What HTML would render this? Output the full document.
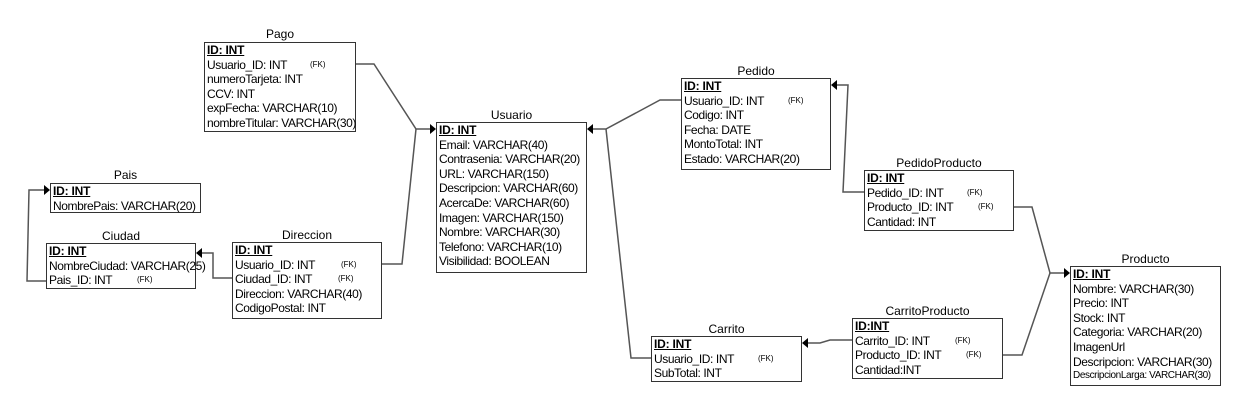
<!DOCTYPE html>
<html><head><meta charset="utf-8"><style>
body{margin:0;width:1246px;height:412px;background:#fff;position:relative;overflow:hidden;font-family:"Liberation Sans",Arial,sans-serif;color:#000}
.t{position:absolute;font-size:12px;text-align:center;line-height:14px}
.b{position:absolute;border:1.5px solid #333;box-sizing:border-box;padding:0 0 0 2px;font-size:12px;line-height:14.6px;white-space:nowrap;letter-spacing:-0.4px}
.b div{height:14.6px;position:relative}
.b .k{font-weight:bold;text-decoration:underline;letter-spacing:-0.2px}
.fk{position:absolute;font-size:8px;top:0;letter-spacing:0}
svg{position:absolute;left:0;top:0}
</style></head><body>
<svg width="1246" height="412">
<g fill="none" stroke="#555" stroke-width="1.5">
<polyline points="356,64 374,64 416,129 434,129"/>
<polyline points="381,264 402,264 416,129"/>
<polyline points="589,129 606,129 660,100 681,100"/>
<polyline points="606,129 631,358 651,358"/>
<polyline points="833,85 848,85 843,192 864,192"/>
<polyline points="1014,207 1032,207 1050,273 1068,273"/>
<polyline points="1003,355 1022,355 1050,273"/>
<polyline points="852,340 830,340 820,343 804,343"/>
<polyline points="232,278 213,278 213,253 198,253"/>
<polyline points="46,281 27,281 29,190 48,190"/>
</g>
<g fill="#000">
<polygon points="436,129 430,124 430,134"/>
<polygon points="587,129 593,124 593,134"/>
<polygon points="831,85 837,80 837,90"/>
<polygon points="1070,273 1064,268 1064,278"/>
<polygon points="802,343 808,338 808,348"/>
<polygon points="196,253 202,248 202,258"/>
<polygon points="50,190 44,185 44,195"/>
</g>
</svg>

<div class="t" style="left:204px;top:27px;width:152px">Pago</div>
<div class="b" style="left:204px;top:42px;width:152px;height:90px">
<div class="k">ID: INT</div>
<div>Usuario_ID: INT<span class="fk" style="left:103px">(FK)</span></div>
<div>numeroTarjeta: INT</div><div>CCV: INT</div><div>expFecha: VARCHAR(10)</div><div>nombreTitular: VARCHAR(30)</div></div>

<div class="t" style="left:50px;top:168px;width:151px">Pais</div>
<div class="b" style="left:50px;top:183px;width:151px;height:30px">
<div class="k">ID: INT</div><div>NombrePais: VARCHAR(20)</div></div>

<div class="t" style="left:46px;top:229px;width:150px">Ciudad</div>
<div class="b" style="left:46px;top:243px;width:150px;height:46px">
<div class="k">ID: INT</div><div>NombreCiudad: VARCHAR(25)</div>
<div>Pais_ID: INT<span class="fk" style="left:88px">(FK)</span></div></div>

<div class="t" style="left:232px;top:228px;width:150px">Direccion</div>
<div class="b" style="left:232px;top:242px;width:150px;height:77px">
<div class="k">ID: INT</div>
<div>Usuario_ID: INT<span class="fk" style="left:106px">(FK)</span></div>
<div>Ciudad_ID: INT<span class="fk" style="left:103px">(FK)</span></div>
<div>Direccion: VARCHAR(40)</div><div>CodigoPostal: INT</div></div>

<div class="t" style="left:436px;top:108px;width:151px">Usuario</div>
<div class="b" style="left:436px;top:122px;width:151px;height:151px">
<div class="k">ID: INT</div><div>Email: VARCHAR(40)</div><div>Contrasenia: VARCHAR(20)</div><div>URL: VARCHAR(150)</div><div>Descripcion: VARCHAR(60)</div><div>AcercaDe: VARCHAR(60)</div><div>Imagen: VARCHAR(150)</div><div>Nombre: VARCHAR(30)</div><div>Telefono: VARCHAR(10)</div><div>Visibilidad: BOOLEAN</div></div>

<div class="t" style="left:681px;top:64px;width:150px">Pedido</div>
<div class="b" style="left:681px;top:78px;width:150px;height:92px">
<div class="k">ID: INT</div>
<div>Usuario_ID: INT<span class="fk" style="left:104px">(FK)</span></div>
<div>Codigo: INT</div><div>Fecha: DATE</div><div>MontoTotal: INT</div><div>Estado: VARCHAR(20)</div></div>

<div class="t" style="left:651px;top:322px;width:151px">Carrito</div>
<div class="b" style="left:651px;top:336px;width:151px;height:46px">
<div class="k">ID: INT</div>
<div>Usuario_ID: INT<span class="fk" style="left:104px">(FK)</span></div>
<div>SubTotal: INT</div></div>

<div class="t" style="left:864px;top:156px;width:150px">PedidoProducto</div>
<div class="b" style="left:864px;top:170px;width:150px;height:61px">
<div class="k">ID: INT</div>
<div>Pedido_ID: INT<span class="fk" style="left:100px">(FK)</span></div>
<div>Producto_ID: INT<span class="fk" style="left:111px">(FK)</span></div>
<div>Cantidad: INT</div></div>

<div class="t" style="left:852px;top:304px;width:151px">CarritoProducto</div>
<div class="b" style="left:852px;top:318px;width:151px;height:61px">
<div class="k">ID:INT</div>
<div>Carrito_ID: INT<span class="fk" style="left:100px">(FK)</span></div>
<div>Producto_ID: INT<span class="fk" style="left:111px">(FK)</span></div>
<div>Cantidad:INT</div></div>

<div class="t" style="left:1070px;top:252px;width:151px">Producto</div>
<div class="b" style="left:1070px;top:266px;width:151px;height:120px">
<div class="k">ID: INT</div><div>Nombre: VARCHAR(30)</div><div>Precio: INT</div><div>Stock: INT</div><div>Categoria: VARCHAR(20)</div><div>ImagenUrl</div><div>Descripcion: VARCHAR(30)</div><div style="font-size:10px;letter-spacing:-0.4px">DescripcionLarga: VARCHAR(30)</div></div>
</body></html>
